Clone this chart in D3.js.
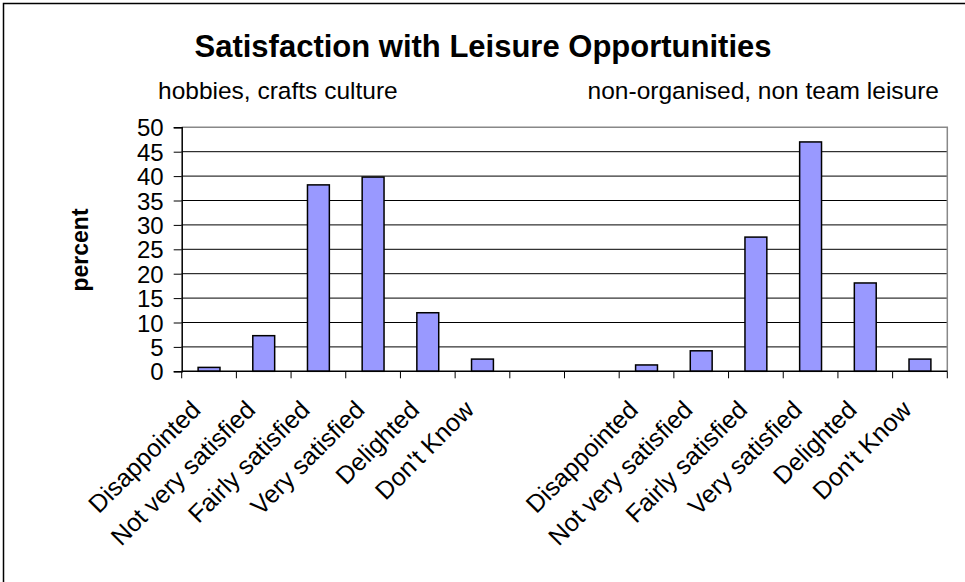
<!DOCTYPE html>
<meta charset="utf-8">
<style>
body { margin: 0; background: #fff; }
text { font-family: 'Liberation Sans', Arial, sans-serif; fill: #000; }
.title { font-size: 31px; font-weight: bold; text-anchor: middle; }
.sub { font-size: 24.5px; }
.ylab { font-size: 23px; font-weight: bold; text-anchor: middle; }
.tick text { font-size: 24px; }
.xlab { font-size: 25px; text-anchor: end; }
</style>
<body>
<svg width="965" height="582"></svg>
<script src="https://d3js.org/d3.v7.min.js"></script>
<script>

// answers, same for both groups
var categories = ["Disappointed", "Not very satisfied", "Fairly satisfied", "Very satisfied", "Delighted", "Don't Know"];
// percent
var hobbies = [0.8, 7.3, 38.2, 39.8, 12.0, 2.5];
var nonTeam = [1.3, 4.2, 27.5, 47.0, 18.1, 2.5];
var yTicks = [0, 5, 10, 15, 20, 25, 30, 35, 40, 45, 50];

var svg = d3.select("svg");

// outer chart frame (only top/left visible in the picture)
svg.append("rect")
    .attr("x", 3.5).attr("y", 3.5)
    .attr("width", 1000).attr("height", 1000)
    .attr("fill", "none").attr("stroke", "#000").attr("stroke-width", 1.5);

var margin = {left: 181.7, right: 947.3, top: 127.3, bottom: 371.3};

// 6 bars + 2 empty slots + 6 bars
var rows = [];
hobbies.forEach(function(v, i) { rows.push({key: "a" + i, label: categories[i], value: v}); });
rows.push({key: "gap0", label: "", value: null});
rows.push({key: "gap1", label: "", value: null});
nonTeam.forEach(function(v, i) { rows.push({key: "b" + i, label: categories[i], value: v}); });

var x = d3.scaleBand()
    .domain(rows.map(function(d) { return d.key; }))
    .range([margin.left, margin.right]);

var y = d3.scaleLinear()
    .domain([0, 50])
    .range([margin.bottom, margin.top]);

// gridlines
svg.append("g")
    .selectAll("line")
    .data(yTicks.slice(1, -1))
  .enter().append("line")
    .attr("x1", margin.left).attr("x2", margin.right)
    .attr("y1", function(d) { return y(d); })
    .attr("y2", function(d) { return y(d); })
    .attr("stroke", "#000").attr("stroke-width", 1);

// plot frame top + right in grey
svg.append("path")
    .attr("d", "M" + margin.left + "," + margin.top + "H" + margin.right + "V" + margin.bottom)
    .attr("fill", "none").attr("stroke", "#888").attr("stroke-width", 1.5);

// bars
var bw = x.bandwidth() * 0.4;
svg.append("g")
    .selectAll("rect")
    .data(rows.filter(function(d) { return d.value !== null; }))
  .enter().append("rect")
    .attr("x", function(d) { return x(d.key) + (x.bandwidth() - bw) / 2; })
    .attr("y", function(d) { return y(d.value); })
    .attr("width", bw)
    .attr("height", function(d) { return y(0) - y(d.value); })
    .attr("fill", "#9999ff")
    .attr("stroke", "#000")
    .attr("stroke-width", 1.5);

// y axis
var yAxis = svg.append("g")
    .attr("transform", "translate(" + margin.left + ",0)")
    .call(d3.axisLeft(y).tickValues(yTicks).tickSize(8).tickPadding(10));
yAxis.select(".domain").attr("stroke-width", 1.5);
yAxis.selectAll(".tick line").attr("stroke-width", 1);
yAxis.selectAll(".tick text").attr("dy", "0.36em").attr("font-family", null).attr("font-size", null);

// x axis: ticks on category boundaries
var bounds = rows.map(function(d) { return x(d.key); }).concat([margin.right]);
svg.append("line")
    .attr("x1", margin.left).attr("x2", margin.right)
    .attr("y1", margin.bottom).attr("y2", margin.bottom)
    .attr("stroke", "#000").attr("stroke-width", 1.5);
svg.append("g")
    .selectAll("line")
    .data(bounds)
  .enter().append("line")
    .attr("x1", function(d) { return d; }).attr("x2", function(d) { return d; })
    .attr("y1", margin.bottom).attr("y2", margin.bottom + 7)
    .attr("stroke", "#000").attr("stroke-width", 1);

// rotated category labels
svg.append("g")
    .selectAll("text")
    .data(rows.filter(function(d) { return d.label; }))
  .enter().append("text")
    .attr("class", "xlab")
    .attr("transform", function(d) {
      var cx = x(d.key) + x.bandwidth() / 2 - 7;
      return "translate(" + cx + "," + (margin.bottom + 40) + ") rotate(-45)";
    })
    .text(function(d) { return d.label; });

// titles
svg.append("text").attr("class", "title").attr("x", 483).attr("y", 57)
    .text("Satisfaction with Leisure Opportunities");
svg.append("text").attr("class", "sub").attr("x", 158).attr("y", 99)
    .text("hobbies, crafts culture");
svg.append("text").attr("class", "sub").attr("x", 939).attr("y", 99)
    .attr("text-anchor", "end")
    .text("non-organised, non team leisure");
svg.append("text").attr("class", "ylab")
    .attr("transform", "translate(88,250) rotate(-90)")
    .text("percent");

</script>
</body>
